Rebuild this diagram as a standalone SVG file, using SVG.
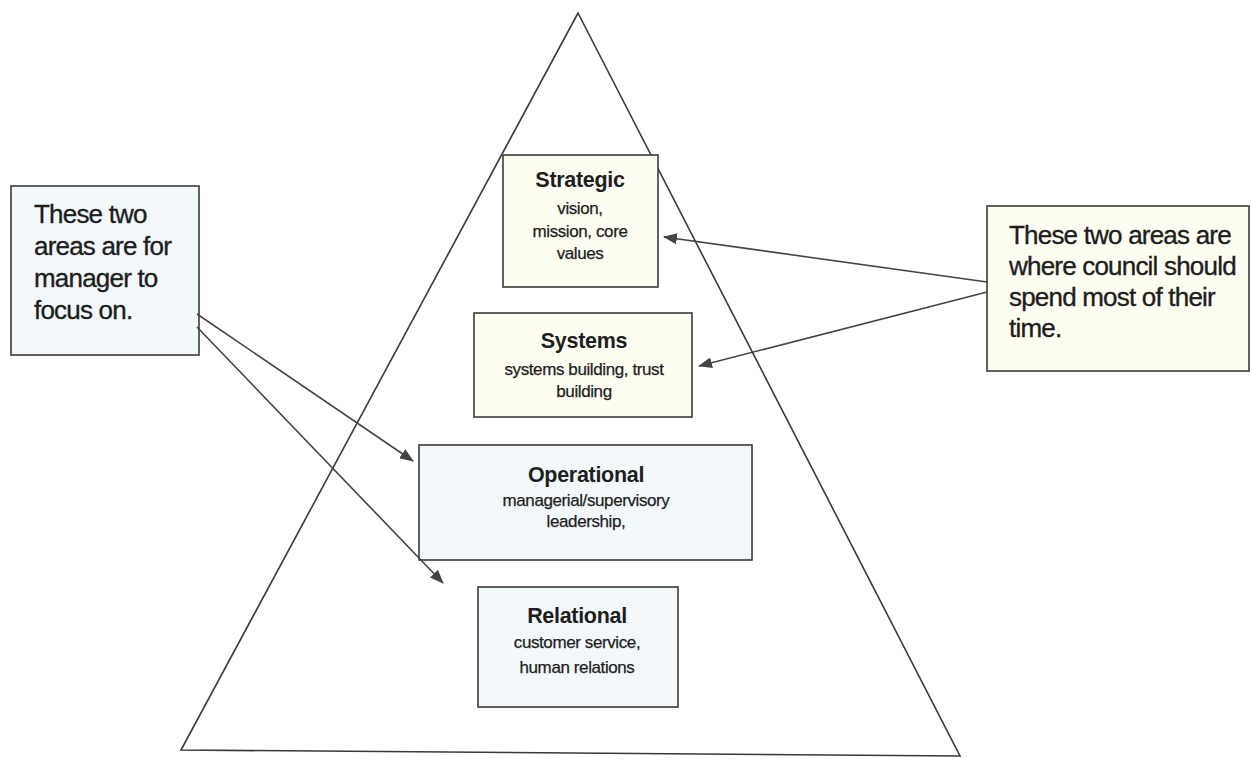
<svg xmlns="http://www.w3.org/2000/svg" width="1252" height="759" viewBox="0 0 1252 759">
<defs>
<style>
.box{stroke:#3a3a3a;stroke-width:1.6}
.cream{fill:#fdfdf2}
.blue{fill:#f3f9fb}
.t{font-family:"Liberation Sans",Arial,sans-serif;fill:#1e1e1e;text-anchor:middle}
.h{font-weight:bold;font-size:21.5px;letter-spacing:-0.3px}
.s{font-size:17px;letter-spacing:-0.4px;stroke:#1e1e1e;stroke-width:0.25}
.big{font-family:"Liberation Sans",Arial,sans-serif;fill:#1e1e1e;font-size:26px;letter-spacing:-0.8px;stroke:#1e1e1e;stroke-width:0.35}
.con{stroke:#444;stroke-width:1.6;fill:none}
</style>
<marker id="ah" viewBox="0 0 14 11" refX="13" refY="5.5" markerWidth="14" markerHeight="11" markerUnits="userSpaceOnUse" orient="auto">
<path d="M0,0 L14,5.5 L0,11 Z" fill="#444"/>
</marker>
</defs>
<rect width="1252" height="759" fill="#ffffff"/>
<g id="pyramid">
<path d="M578,13 L960,756 L181,750 Z" fill="none" stroke="#3a3a3a" stroke-width="1.6"/>
</g>
<g id="strategic">
<rect class="box cream" x="503" y="155" width="155" height="132"/>
<text class="t h" x="580" y="187">Strategic</text>
<text class="t s" x="580" y="214">vision,</text>
<text class="t s" x="580" y="237">mission, core</text>
<text class="t s" x="580" y="259">values</text>
</g>
<g id="systems">
<rect class="box cream" x="474" y="313" width="218" height="104"/>
<text class="t h" x="584" y="348">Systems</text>
<text class="t s" x="584" y="375">systems building, trust</text>
<text class="t s" x="584" y="397">building</text>
</g>
<g id="operational">
<rect class="box blue" x="419" y="445" width="333" height="115"/>
<text class="t h" x="586" y="482">Operational</text>
<text class="t s" x="586" y="506">managerial/supervisory</text>
<text class="t s" x="586" y="527">leadership,</text>
</g>
<g id="relational">
<rect class="box blue" x="478" y="587" width="200" height="120"/>
<text class="t h" x="577" y="623">Relational</text>
<text class="t s" x="577" y="648">customer service,</text>
<text class="t s" x="577" y="673">human relations</text>
</g>
<g id="manager-note">
<rect class="box blue" x="11" y="186" width="188" height="169"/>
<text class="big" x="34" y="223">These two</text>
<text class="big" x="34" y="255">areas are for</text>
<text class="big" x="34" y="287">manager to</text>
<text class="big" x="34" y="319">focus on.</text>
</g>
<g id="council-note">
<rect class="box cream" x="987" y="206" width="262" height="165"/>
<text class="big" x="1009" y="244">These two areas are</text>
<text class="big" x="1009" y="275">where council should</text>
<text class="big" x="1009" y="306">spend most of their</text>
<text class="big" x="1009" y="337">time.</text>
</g>
<g id="connectors">
<line class="con" x1="197" y1="314" x2="413" y2="461" marker-end="url(#ah)"/>
<line class="con" x1="197" y1="327" x2="443" y2="583" marker-end="url(#ah)"/>
<line class="con" x1="987" y1="282" x2="664" y2="237" marker-end="url(#ah)"/>
<line class="con" x1="987" y1="292" x2="699" y2="366" marker-end="url(#ah)"/>
</g>
</svg>
